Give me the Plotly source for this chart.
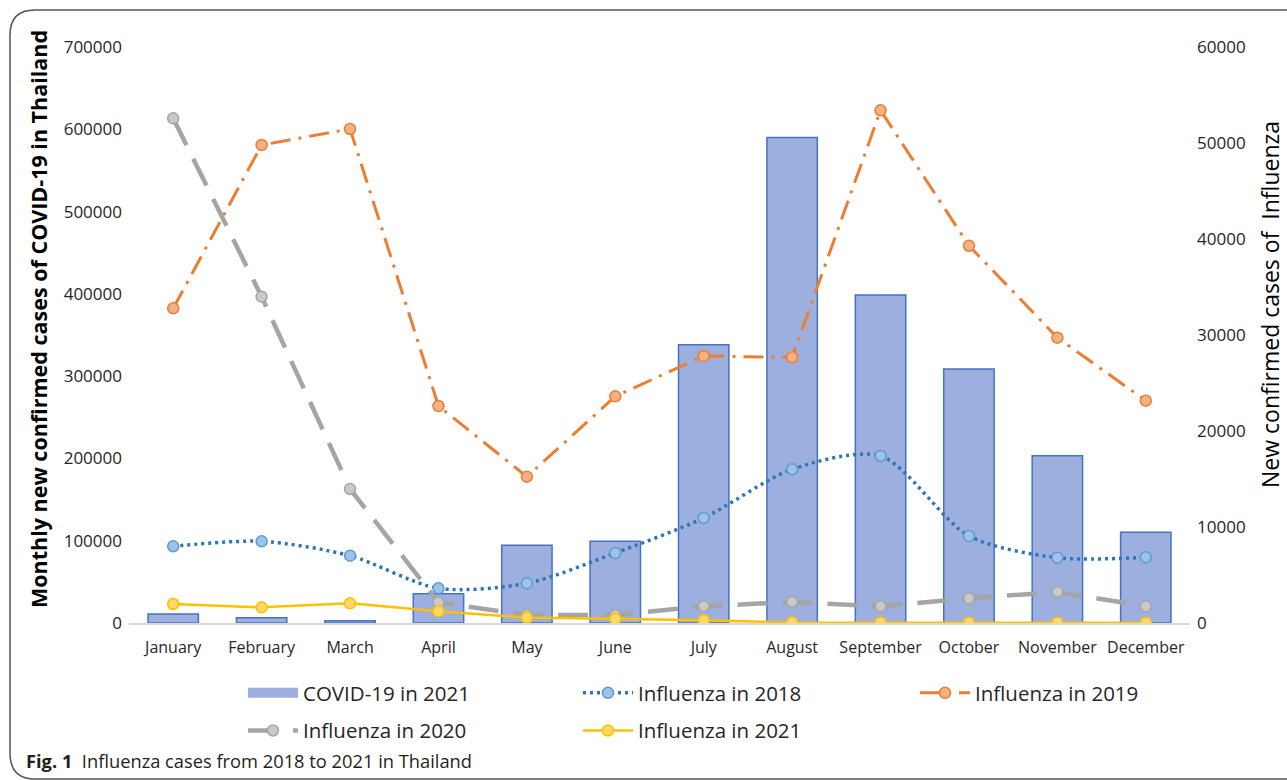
import plotly.graph_objects as go

months = ["January", "February", "March", "April", "May", "June", "July",
          "August", "September", "October", "November", "December"]
covid_2021 = [11000, 6500, 2800, 35600, 94400, 99300, 338000, 590000, 398500, 308600, 203300, 110200]
flu_2018 = [7990, 8510, 7010, 3610, 4130, 7290, 10940, 16010, 17400, 9060, 6800, 6840]
flu_2019 = [32780, 49790, 51460, 22600, 15240, 23610, 27810, 27670, 53400, 39300, 29720, 23160]
flu_2020 = [52570, 33990, 13960, 2150, 830, 830, 1740, 2190, 1740, 2570, 3230, 1740]
flu_2021 = [1980, 1630, 2050, 1220, 560, 430, 280, 50, 30, 30, 30, 30]

FONT = "Open Sans"
W, H = 1287, 780
L, R, T, B = 129, 97, 47, 157
PW, PH = W - L - R, H - T - B
BAR_FILL = "#9dafdf"


def px(x):
    return (x - L) / PW


def py(y):
    return (H - B - y) / PH


fig = go.Figure()
# legend-only entry drawn as a wide filled rectangle like the reference's bar key
fig.add_trace(go.Scatter(
    x=[months[0]], y=[None], name="COVID-19 in 2021", mode="lines",
    line=dict(color=BAR_FILL, width=14), legend="legend", legendgroup="a",
    hoverinfo="skip"))
fig.add_trace(go.Bar(
    x=months, y=covid_2021, name="COVID-19 in 2021", showlegend=False,
    marker=dict(color=BAR_FILL, line=dict(color="#4472c4", width=1.5)),
    yaxis="y", legend="legend", legendgroup="a"))
fig.add_trace(go.Scatter(
    x=months, y=flu_2018, name="Influenza in 2018", yaxis="y2", mode="lines+markers",
    line=dict(color="#2e75b6", width=3.5, dash="3px,4px", shape="spline", smoothing=0.8),
    marker=dict(size=11, color="#9dc3e6", line=dict(color="#5b9bd5", width=1.5)),
    legend="legend2", legendgroup="b"))
fig.add_trace(go.Scatter(
    x=months, y=flu_2019, name="Influenza in 2019", yaxis="y2", mode="lines+markers",
    line=dict(color="#ed7d31", width=3, dash="20px,8px,3px,8px"),
    marker=dict(size=11, color="#f4b183", line=dict(color="#ed7d31", width=1.5)),
    legend="legend3", legendgroup="c"))
fig.add_trace(go.Scatter(
    x=months, y=flu_2020, name="Influenza in 2020", yaxis="y2", mode="lines+markers",
    line=dict(color="#a5a5a5", width=4.5, dash="30px,15px"),
    marker=dict(size=11, color="#c9c9c9", line=dict(color="#a5a5a5", width=1.5)),
    legend="legend", legendgroup="d"))
fig.add_trace(go.Scatter(
    x=months, y=flu_2021, name="Influenza in 2021", yaxis="y2", mode="lines+markers",
    line=dict(color="#ffc000", width=2.5),
    marker=dict(size=11, color="#ffd966", line=dict(color="#ffc000", width=1.5)),
    legend="legend2", legendgroup="e"))

frame = (f"M {px(1300)},{py(10)} L {px(35)},{py(10)} "
         f"Q {px(10)},{py(10)} {px(10)},{py(35)} "
         f"L {px(10)},{py(753)} Q {px(10)},{py(779)} {px(35)},{py(779)} "
         f"L {px(1300)},{py(779)}")


def leg(xpix):
    return dict(orientation="v", x=px(xpix), y=py(673), xanchor="left", yanchor="top",
                itemwidth=50, font=dict(family=FONT, size=20.5, color="#262626"),
                traceorder="grouped", tracegroupgap=8, bgcolor="rgba(0,0,0,0)")


fig.update_layout(
    width=W, height=H,
    margin=dict(l=L, r=R, t=T, b=B, autoexpand=False),
    paper_bgcolor="white", plot_bgcolor="white",
    font=dict(family=FONT, color="#262626", size=16),
    bargap=0.43,
    showlegend=True,
    legend=leg(243),
    legend2=leg(578),
    legend3=leg(915),
    xaxis=dict(type="category", categoryorder="array", categoryarray=months,
               range=[-0.5, 11.5], showgrid=False, showline=True, linecolor="#d9d9d9",
               linewidth=1.5, ticks="", ticklabelstandoff=9,
               tickfont=dict(size=16, color="#262626"), zeroline=False),
    yaxis=dict(range=[0, 700000], dtick=100000, showgrid=False, zeroline=False,
               showline=False, ticks="", tickformat="d", ticklabelstandoff=6,
               tickfont=dict(size=17, color="#262626")),
    yaxis2=dict(range=[0, 60000], dtick=10000, overlaying="y", side="right",
                showgrid=False, zeroline=False, showline=False, ticks="", tickformat="d",
                ticklabelstandoff=6, tickfont=dict(size=17, color="#262626")),
    shapes=[dict(type="path", xref="paper", yref="paper", path=frame,
                 line=dict(color="#555555", width=1.5))],
    annotations=[
        dict(text="<b>Monthly new confirmed cases of COVID-19 in Thailand</b>",
             xref="paper", yref="paper", x=px(38), y=py(319), textangle=-90,
             showarrow=False, font=dict(size=21.5, color="black", family=FONT),
             xanchor="center", yanchor="middle"),
        dict(text="New confirmed cases of  Influenza",
             xref="paper", yref="paper", x=px(1270), y=py(305), textangle=-90,
             showarrow=False, font=dict(size=23, color="black", family=FONT),
             xanchor="center", yanchor="middle"),
        dict(text="<b>Fig. 1</b>  Influenza cases from 2018 to 2021 in Thailand",
             xref="paper", yref="paper", x=px(24), y=py(760),
             showarrow=False, font=dict(size=18.3, color="#231f20", family=FONT),
             xanchor="left", yanchor="middle"),
    ],
)

fig.write_html("out.html", config={"displayModeBar": False},
               post_script="document.body.style.margin='0';")
